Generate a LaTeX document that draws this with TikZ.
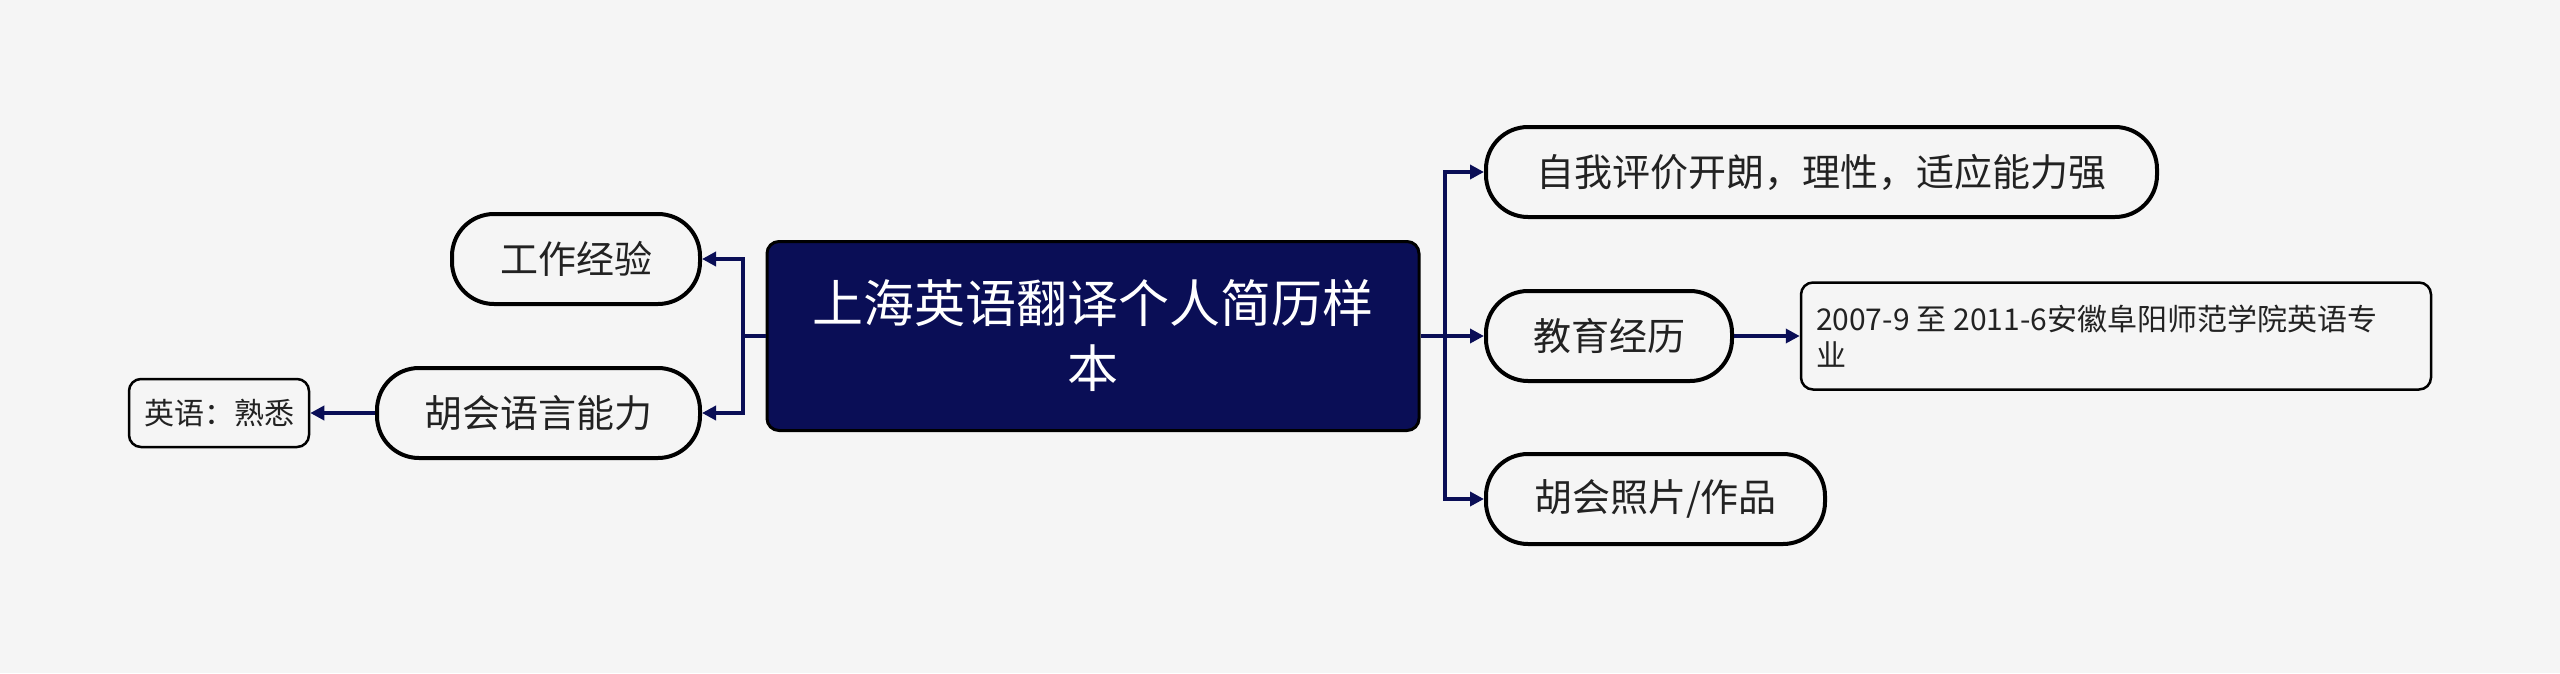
\documentclass[tikz,border=0pt]{standalone}
\usepackage{fontspec}
\setmainfont{Noto Sans CJK SC}
\usetikzlibrary{arrows.meta}
\definecolor{bg}{HTML}{F5F5F5}
\definecolor{navy}{HTML}{0A0E56}
\definecolor{txt}{HTML}{222222}
\begin{document}
\begin{tikzpicture}[x=1pt,y=-1pt,
  pill/.style={draw=black, line width=4pt, fill=bg, rounded corners=42pt, minimum height=90pt, inner sep=0pt, text=txt, font=\fontsize{38}{46}\selectfont},
  small/.style={draw=black, line width=2.5pt, fill=bg, rounded corners=12pt, inner sep=0pt, text=txt, font=\fontsize{30}{36}\selectfont},
  central/.style={draw=black, line width=3pt, fill=navy, rounded corners=12pt, inner sep=0pt, text=white, align=center, font=\fontsize{51}{65}\selectfont},
  link/.style={draw=navy, line width=3.5pt},
  conn/.style={draw=navy, line width=3.5pt, -{Triangle[length=14pt,width=14pt]}}
]
\fill[bg] (0,0) rectangle (2560,673);
\useasboundingbox (0,0) rectangle (2560,673);

\node[central, minimum width=652pt, minimum height=189pt] (c) at (1093,336) {上海英语翻译个人简历样\\本};

\node[pill, minimum width=671pt] (r1) at (1821.5,172) {自我评价开朗，理性，适应能力强};
\node[pill, minimum width=246pt] (r2) at (1609,336) {教育经历};
\node[pill, minimum width=339pt] (r3) at (1655.5,499) {胡会照片/作品};
\node[small, minimum width=630pt, minimum height=107pt, inner xsep=15pt, text width=600pt, align=left] (t) at (2116,336) {2007-9\hspace{7pt}至\hspace{7pt}2011-6安徽阜阳师范学院英语专\\业};

\node[pill, minimum width=248pt] (l1) at (576,259) {工作经验};
\node[pill, minimum width=323pt] (l2) at (538.5,413) {胡会语言能力};
\node[small, minimum width=180pt, minimum height=68pt] (l3) at (219,413) {英语：熟悉};

\coordinate (rj) at (1445,336);
\coordinate (lj) at (743,336);
\draw[link] (c.east) -- (rj);
\draw[link] (c.west) -- (lj);
\draw[conn] (rj) |- (r1.west);
\draw[conn] (rj) -- (r2.west);
\draw[conn] (rj) |- (r3.west);
\draw[conn] (lj) |- (l1.east);
\draw[conn] (lj) |- (l2.east);
\draw[conn] (r2.east) -- (t.west);
\draw[conn] (l2.west) -- (l3.east);
\end{tikzpicture}
\end{document}
